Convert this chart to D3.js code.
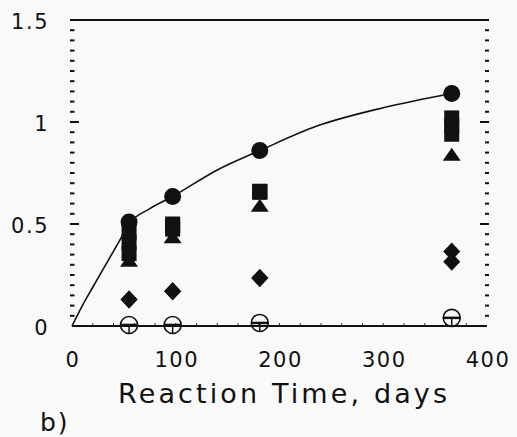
<!DOCTYPE html>
<html><head><meta charset="utf-8">
<script src="https://cdn.jsdelivr.net/npm/d3@7"></script>
<style>body{margin:0;background:#f9f9f9}svg{display:block}</style>
</head><body><svg id="c" width="517" height="437"></svg>
<script>
const days = [55, 97, 181, 366];
const filledCircles = [0.51, 0.635, 0.86, 1.14];
const squaresA = [0.46, 0.50, 0.66, 1.02];
const squaresB = [0.41, 0.475, 0.66, 0.98];
const squaresC = [0.355, 0.49, 0.655, 0.94];
const triangles = [0.32, 0.435, 0.59, 0.84];
const diamondsA = [0.13, 0.17, 0.235, 0.365];
const diamondsB = [0.13, 0.17, 0.235, 0.315];
const openCircles = [0.005, 0.005, 0.015, 0.04];
const curveT = [0, 10, 20, 37, 46, 55, 75, 97, 140, 181, 236, 300, 366];
const curveY = [0, 0.1, 0.19, 0.34, 0.42, 0.5, 0.575, 0.635, 0.765, 0.86, 0.98, 1.07, 1.14];
const xTicks = [0, 100, 200, 300, 400];
const yTicks = [0, 0.5, 1, 1.5];
const yTickLabels = ["0", "0.5", "1", "1.5"];

const svg = d3.select("#c");
const x = d3.scaleLinear().domain([0, 400]).range([72, 487]);
const y = d3.scaleLinear().domain([0, 1.5]).range([326, 20]);
const font = "'DejaVu Sans', sans-serif";

svg.append("line").attr("x1", 70).attr("x2", 489).attr("y1", y(1.5)).attr("y2", y(1.5))
  .attr("stroke", "#111").attr("stroke-width", 2);
svg.append("line").attr("x1", x(0)).attr("x2", x(400)).attr("y1", y(0)).attr("y2", y(0))
  .attr("stroke", "#111").attr("stroke-width", 2);

const isMajor = d => Math.abs(d - 0.5) < 1e-6 || Math.abs(d - 1) < 1e-6;
const minor = d3.range(0.05, 1.5, 0.05);
svg.append("g").selectAll("line").data(minor).join("line")
  .attr("x1", 70).attr("x2", d => isMajor(d) ? 79 : 74.5)
  .attr("y1", d => y(d)).attr("y2", d => y(d))
  .attr("stroke", "#111").attr("stroke-width", 2);
svg.append("g").selectAll("line").data(minor).join("line")
  .attr("x1", d => isMajor(d) ? 480 : 485).attr("x2", 489)
  .attr("y1", d => y(d)).attr("y2", d => y(d))
  .attr("stroke", "#111").attr("stroke-width", 2);
svg.append("g").selectAll("line").data(d3.range(20, 400, 20)).join("line")
  .attr("x1", d => x(d)).attr("x2", d => x(d)).attr("y1", y(0)).attr("y2", y(0) - 3)
  .attr("stroke", "#333").attr("stroke-width", 1);

svg.append("g").selectAll("text").data(yTicks).join("text")
  .attr("x", 49).attr("y", d => y(d) + 9)
  .attr("text-anchor", "end").attr("font-family", font).attr("font-size", 21)
  .attr("letter-spacing", 1.5).attr("fill", "#111")
  .text((d, i) => yTickLabels[i]);
svg.append("g").selectAll("text").data(xTicks).join("text")
  .attr("x", d => x(d) + 1).attr("y", 367)
  .attr("text-anchor", "middle").attr("font-family", font).attr("font-size", 21)
  .attr("letter-spacing", 1.5).attr("fill", "#111")
  .text(d => d);

svg.append("text").attr("x", 118).attr("y", 403)
  .attr("font-family", font).attr("font-size", 27).attr("fill", "#111")
  .attr("textLength", 329).attr("lengthAdjust", "spacing")
  .text("Reaction Time, days");
svg.append("text").attr("x", 40).attr("y", 431)
  .attr("font-family", font).attr("font-size", 25).attr("fill", "#111")
  .attr("letter-spacing", 2)
  .text("b)");

const pts = curveT.map((t, i) => [t, curveY[i]]);
svg.append("path").datum(pts)
  .attr("d", d3.line().x(d => x(d[0])).y(d => y(d[1])).curve(d3.curveMonotoneX))
  .attr("fill", "none").attr("stroke", "#111").attr("stroke-width", 1.6);

const g = svg.append("g").attr("fill", "#111");
const oc = g.selectAll(".oc").data(days.map((d, i) => [d, openCircles[i]])).join("g")
  .attr("transform", d => `translate(${x(d[0])},${y(d[1])})`);
oc.append("circle").attr("r", 8.5).attr("fill", "none").attr("stroke", "#111").attr("stroke-width", 1.6);
oc.append("line").attr("x1", -8.5).attr("x2", 8.5).attr("stroke", "#111").attr("stroke-width", 2.5);
oc.append("line").attr("y1", 0).attr("y2", 8.5).attr("stroke", "#111").attr("stroke-width", 1.5);

[diamondsA, diamondsB].forEach(arr => {
  g.append("g").selectAll("path").data(days.map((d, i) => [d, arr[i]])).join("path")
    .attr("transform", d => `translate(${x(d[0])},${y(d[1])})`)
    .attr("d", "M0,-9L8.5,0L0,9L-8.5,0Z");
});
g.append("g").selectAll("path").data(days.map((d, i) => [d, triangles[i]])).join("path")
  .attr("transform", d => `translate(${x(d[0])},${y(d[1])})`)
  .attr("d", "M0,-7L9,6L-9,6Z");
[squaresA, squaresB, squaresC].forEach(arr => {
  g.append("g").selectAll("rect").data(days.map((d, i) => [d, arr[i]])).join("rect")
    .attr("x", d => x(d[0]) - 7.5).attr("y", d => y(d[1]) - 7.5)
    .attr("width", 15).attr("height", 15);
});
g.append("g").selectAll("circle").data(days.map((d, i) => [d, filledCircles[i]])).join("circle")
  .attr("cx", d => x(d[0])).attr("cy", d => y(d[1])).attr("r", 8.5);
</script></body></html>
